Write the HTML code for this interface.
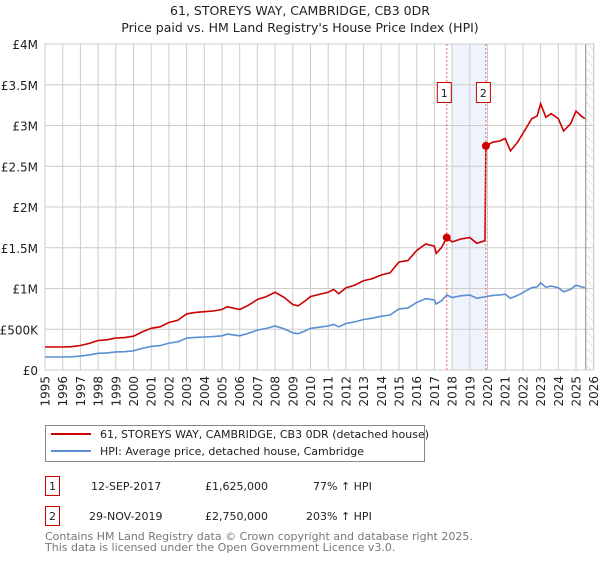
<!DOCTYPE html>
<html><head><meta charset="utf-8"><style>
body{margin:0;background:#fff;font-family:"Liberation Sans","DejaVu Sans",sans-serif;}
svg text{font-family:"DejaVu Sans","Liberation Sans",sans-serif;}
</style></head><body>
<svg id="c" width="600" height="560" xmlns="http://www.w3.org/2000/svg">
<defs><pattern id="hatch" width="6" height="6" patternUnits="userSpaceOnUse" patternTransform="rotate(-45)"><line x1="0" y1="0" x2="0" y2="6" stroke="#ccc" stroke-width="1"/></pattern></defs>
<text x="300" y="15" text-anchor="middle" font-size="12.5" fill="#222">61, STOREYS WAY, CAMBRIDGE, CB3 0DR</text>
<text x="300" y="32" text-anchor="middle" font-size="12.5" fill="#222">Price paid vs. HM Land Registry's House Price Index (HPI)</text>
<g id="grid"></g><g id="marks"></g><g id="axes"></g>
<g>
<rect x="45.5" y="425.5" width="379" height="36" fill="#fff" stroke="#888"/>
<line x1="51" y1="434" x2="91" y2="434" stroke="#cc0000" stroke-width="2"/>
<text x="100" y="438" font-size="11" fill="#222">61, STOREYS WAY, CAMBRIDGE, CB3 0DR (detached house)</text>
<line x1="51" y1="451" x2="91" y2="451" stroke="#5b8fd4" stroke-width="2"/>
<text x="100" y="455" font-size="11" fill="#222">HPI: Average price, detached house, Cambridge</text>
</g>
<g font-size="11" fill="#222">
<rect x="45.5" y="476.5" width="14" height="19" fill="#fff" stroke="#cc0000"/><text x="52.5" y="490" text-anchor="middle">1</text>
<text x="91" y="490">12-SEP-2017</text><text x="205" y="490">£1,625,000</text><text x="313" y="490">77% ↑ HPI</text>
<rect x="45.5" y="506.5" width="14" height="19" fill="#fff" stroke="#cc0000"/><text x="52.5" y="520" text-anchor="middle">2</text>
<text x="89" y="520">29-NOV-2019</text><text x="205" y="520">£2,750,000</text><text x="306" y="520">203% ↑ HPI</text>
</g>
<text x="45" y="540" font-size="11" fill="#777">Contains HM Land Registry data © Crown copyright and database right 2025.</text>
<text x="45" y="551" font-size="11" fill="#777">This data is licensed under the Open Government Licence v3.0.</text>
</svg>
<script>
const hpiYears=[1995,1996,1996.5,1997,1997.5,1998,1998.5,1999,1999.5,2000,2000.5,2001,2001.5,2002,2002.5,2003,2003.5,2004,2004.5,2005,2005.3,2006,2006.5,2007,2007.5,2008,2008.5,2009,2009.3,2009.7,2010,2010.5,2011,2011.3,2011.6,2012,2012.5,2013,2013.5,2014,2014.5,2015,2015.5,2016,2016.5,2017,2017.1,2017.4,2017.7,2018,2018.5,2019,2019.4,2019.9,2020.3,2020.7,2021,2021.3,2021.7,2022,2022.5,2022.8,2023,2023.3,2023.6,2024,2024.3,2024.7,2025,2025.3,2025.5];
const hpiValues=[160,160,162,170,185,205,210,222,225,235,265,290,300,330,345,390,400,405,410,420,440,420,450,490,510,540,505,455,445,480,510,525,540,560,530,570,590,620,635,660,675,750,760,830,875,860,810,850,920,890,910,920,880,900,915,920,930,880,915,950,1010,1020,1070,1015,1030,1010,960,990,1040,1020,1010];
const saleYears=[2017.7,2019.91];
const salePrices=[1625,2750];
const yTicks=[0,500,1000,1500,2000,2500,3000,3500,4000];
const yTickLabels=["£0","£500K","£1M","£1.5M","£2M","£2.5M","£3M","£3.5M","£4M"];
const xTicks=[1995,1996,1997,1998,1999,2000,2001,2002,2003,2004,2005,2006,2007,2008,2009,2010,2011,2012,2013,2014,2015,2016,2017,2018,2019,2020,2021,2022,2023,2024,2025,2026];
const NS="http://www.w3.org/2000/svg";
const X=y=>45+(y-1995)*17.7, Y=v=>370-v*0.0815;
function mk(t,a,p){const e=document.createElementNS(NS,t);for(const k in a)e.setAttribute(k,a[k]);p.appendChild(e);return e;}
const g=document.getElementById('grid'),m=document.getElementById('marks'),ax=document.getElementById('axes');
const x0=X(1995),x1=X(2026),dEnd=X(2025.55);
let sh=mk('rect',{x:X(2018),y:Y(4000),width:X(saleYears[1])-X(2018),height:Y(0)-Y(4000),fill:'#eef3fc'},g);


let ht=mk('rect',{x:dEnd,y:Y(4000),width:x1-dEnd,height:Y(0)-Y(4000),fill:'url(#hatch)'},g);


yTicks.forEach((v,i)=>{mk('line',{x1:x0,x2:x1,y1:Y(v),y2:Y(v),stroke:'#ccc'},g);
 const t=mk('text',{x:38,y:Y(v)+5,'text-anchor':'end','font-size':'12',fill:'#222'},ax);t.textContent=yTickLabels[i];
 
 });
xTicks.forEach(yr=>{mk('line',{x1:X(yr),x2:X(yr),y1:Y(0),y2:Y(4000),stroke:'#ccc'},g);
 const t=mk('text',{x:0,y:0,'font-size':'12',fill:'#222','text-anchor':'end',transform:`translate(${X(yr)+4.5},376) rotate(-90)`},ax);t.textContent=yr;
 
 });
mk('line',{x1:dEnd,x2:dEnd,y1:Y(0),y2:Y(4000),stroke:'#888'},g);
function hpiAt(yr){for(let i=1;i<hpiYears.length;i++)if(hpiYears[i]>=yr){const f=(yr-hpiYears[i-1])/(hpiYears[i]-hpiYears[i-1]);return hpiValues[i-1]+f*(hpiValues[i]-hpiValues[i-1]);}return hpiValues[hpiValues.length-1];}
const r1=salePrices[0]/hpiAt(saleYears[0]),r2=salePrices[1]/hpiAt(saleYears[1]);
let hp='',rp='';
hpiYears.forEach((yr,i)=>{hp+=(i?'L':'M')+X(yr).toFixed(1)+','+Y(hpiValues[i]).toFixed(1);});
let pts=[];hpiYears.forEach((yr,i)=>{if(yr<saleYears[1])pts.push([yr,hpiValues[i]*r1]);});
pts.push([saleYears[1]-0.05,hpiAt(saleYears[1]-0.05)*r1]);pts.push([saleYears[1],salePrices[1]]);
hpiYears.forEach((yr,i)=>{if(yr>saleYears[1])pts.push([yr,hpiValues[i]*r2]);});
pts.forEach((p,i)=>{rp+=(i?'L':'M')+X(p[0]).toFixed(1)+','+Y(p[1]).toFixed(1);});
let hl=mk('path',{d:hp,fill:'none',stroke:'#5b8fd4','stroke-width':1.6},m);


let rl=mk('path',{d:rp,fill:'none',stroke:'#cc0000','stroke-width':1.6},m);


saleYears.forEach((yr,i)=>{
 mk('line',{x1:X(yr),x2:X(yr),y1:Y(0),y2:Y(4000),stroke:'#f06070','stroke-dasharray':'2,2'},m);
 const c=mk('circle',{cx:X(yr),cy:Y(salePrices[i]),r:4,fill:'#cc0000'},m);
 
 
 const bx=X(yr)-9.5;
 const b=mk('rect',{x:bx,y:82.5,width:14,height:20,fill:'#fff',stroke:'#cc0000'},m);
 
 
 const t=mk('text',{x:bx+7,y:97,'text-anchor':'middle','font-size':'11',fill:'#222'},m);t.textContent=i+1;
});
mk('rect',{x:x0,y:Y(4000),width:x1-x0,height:Y(0)-Y(4000),fill:'none',stroke:'#ccc'},g);
</script>
</body></html>
